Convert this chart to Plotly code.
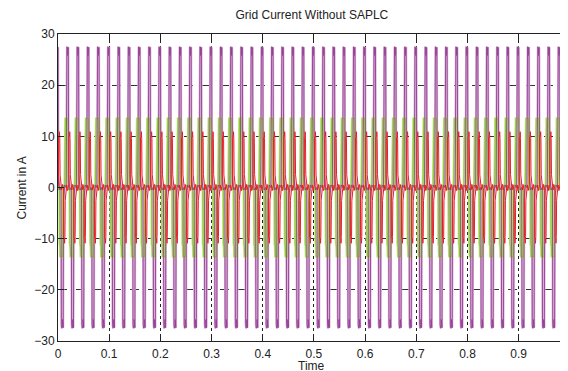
import numpy as np
import plotly.graph_objects as go

# ---- data ----
period = 0.02            # 50 Hz supply, 50 cycles in 0..1 s
n_cycles = 52
t_start = -0.004

# one period of each grid-current phase, as (fraction of period, amperes)
purple_frac = [0.00, 0.03, 0.07, 0.12, 0.14, 0.16, 0.21, 0.24, 0.36, 0.50, 0.53, 0.57, 0.62, 0.64, 0.66, 0.71, 0.74, 0.86, 1.00]
purple_val  = [0.0, 26.8, 27.5, 27.3, 25.8, 27.3, 27.4, 2.5, -0.5, 0.0, -26.8, -27.5, -27.3, -25.8, -27.3, -27.4, -2.5, 0.5, 0.0]

green_frac = [0.00, 0.02, 0.06, 0.08, 0.30, 0.33, 0.42, 0.50, 0.52, 0.56, 0.58, 0.80, 0.83, 0.92, 1.00]
green_val  = [0.0, 11.0, 11.5, 13.5, 13.6, 1.0, -0.5, 0.0, -11.0, -11.5, -13.5, -13.6, -1.0, 0.5, 0.0]

red_frac = [0.00, 0.07, 0.09, 0.15, 0.17, 0.20, 0.23, 0.30, 0.38, 0.45, 0.50, 0.57, 0.59, 0.65, 0.67, 0.70, 0.73, 0.80, 0.88, 0.95, 1.00]
red_val  = [0.0, 0.5, 9.8, 10.0, 10.9, 9.6, 2.5, 1.2, -0.5, 0.6, 0.0, -0.5, -9.8, -10.0, -10.9, -9.6, -2.5, -1.2, 0.5, -0.6, 0.0]

purple_shift = 0.0
green_shift = -0.003
red_shift = 0.0035

x_ticks = [0, 0.1, 0.2, 0.3, 0.4, 0.5, 0.6, 0.7, 0.8, 0.9, 1]
x_labels = ["0", "0.1", "0.2", "0.3", "0.4", "0.5", "0.6", "0.7", "0.8", "0.9", "1"]
y_ticks = [-30, -20, -10, 0, 10, 20, 30]


def tile(frac, val, shift):
    f = np.asarray(frac)
    v = np.asarray(val)
    ts, vs = [], []
    for k in range(n_cycles):
        ts.append(t_start + shift + (k + f) * period)
        vs.append(v)
    return np.concatenate(ts), np.concatenate(vs)


tp, vp = tile(purple_frac, purple_val, purple_shift)
tg, vg = tile(green_frac, green_val, green_shift)
tr, vr = tile(red_frac, red_val, red_shift)

fig = go.Figure()
fig.add_trace(go.Scatter(x=tp, y=vp, mode="lines", line=dict(color="#ddb4da", width=2.2), hoverinfo="skip", showlegend=False))
fig.add_trace(go.Scatter(x=tg, y=vg, mode="lines", line=dict(color="#c2e18a", width=2.6), hoverinfo="skip", showlegend=False))
fig.add_trace(go.Scatter(x=tg, y=vg, mode="lines", line=dict(color="#8cc63a", width=1), showlegend=False))
fig.add_trace(go.Scatter(x=tp, y=vp, mode="lines", line=dict(color="#923f92", width=0.9), showlegend=False))
fig.add_trace(go.Scatter(x=tr, y=vr, mode="lines", line=dict(color="#ec1c24", width=1.0), showlegend=False))

font = "Liberation Sans, Arial, sans-serif"
fig.update_layout(
    width=568, height=371,
    margin=dict(l=50, r=0, t=26, b=38),
    paper_bgcolor="white", plot_bgcolor="white",
    font=dict(family=font, size=12, color="#222"),
    title=dict(text="Grid Current Without SAPLC", x=0.535, xanchor="center", y=0.981, yanchor="middle",
               font=dict(size=12, color="#222")),
    xaxis=dict(range=[0, 1.012], tickvals=x_ticks, ticktext=x_labels, automargin=False, ticklabelstandoff=2,
               ticks="inside", ticklen=6, tickcolor="#222", showline=True, linecolor="#222", linewidth=1, mirror="ticks",
               showgrid=True, gridcolor="#222", griddash="dot", gridwidth=1, zeroline=False),
    yaxis=dict(range=[-30, 30], tickvals=y_ticks, automargin=False, ticks="inside", ticklen=6, tickcolor="#222",
               showline=True, linecolor="#222", linewidth=1, mirror=False,
               showgrid=True, gridcolor="#333", griddash="dash", gridwidth=1, zeroline=False),
    annotations=[
        dict(text="Time", xref="paper", yref="paper", x=0.49, y=-0.081, xanchor="center", yanchor="middle",
             showarrow=False, font=dict(size=12, color="#222")),
        dict(text="Current in A", xref="paper", yref="paper", x=-0.0695, y=0.5, xanchor="center", yanchor="middle",
             textangle=-90, showarrow=False, font=dict(size=12, color="#222")),
    ],
)
fig.write_html("out.html")
